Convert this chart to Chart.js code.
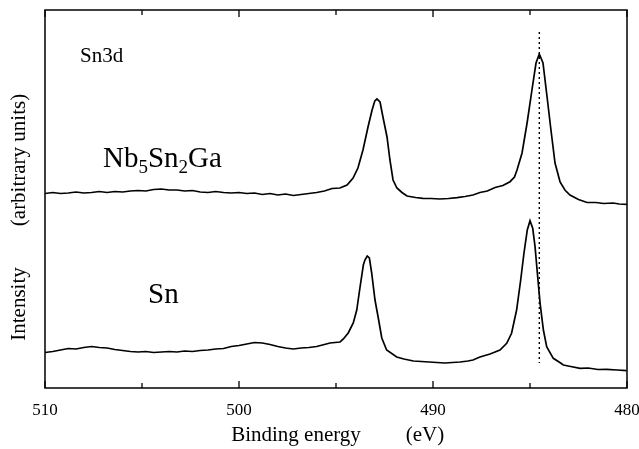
<!DOCTYPE html>
<html lang="en">
<head>
<meta charset="UTF-8">
<title>Sn3d XPS spectra</title>
<script src="https://cdn.jsdelivr.net/npm/chart.js"></script>
<style>
  body { margin: 0; background: #fff; }
  .wrap { width: 639px; height: 449px; position: relative; }
</style>
</head>
<body>
<div class="wrap"><canvas id="xps"></canvas></div>
<script>
// binding energy (eV) and intensity (arb. units)
const energyNb = [510.0, 509.6, 509.2, 508.8, 508.4, 508.0, 507.6, 507.2, 506.8, 506.4, 506.0, 505.6, 505.2, 504.8, 504.4, 504.0, 503.6, 503.2, 502.8, 502.4, 502.0, 501.6, 501.2, 500.8, 500.4, 500.0, 499.6, 499.2, 498.8, 498.4, 498.0, 497.6, 497.2, 496.8, 496.4, 496.0, 495.6, 495.2, 494.8, 494.43, 494.12, 493.87, 493.61, 493.35, 493.14, 493.0, 492.89, 492.73, 492.58, 492.37, 492.22, 492.06, 491.86, 491.6, 491.34, 490.9, 490.52, 490.1, 489.64, 489.2, 488.76, 488.35, 487.94, 487.58, 487.2, 486.8, 486.4, 486.03, 485.8, 485.67, 485.41, 485.15, 484.9, 484.69, 484.52, 484.33, 484.12, 483.92, 483.71, 483.45, 483.2, 482.94, 482.5, 482.06, 481.6, 481.2, 480.72, 480.4, 480.0];
const intensityNb = [194.5, 195.5, 194.5, 195, 196, 195, 195.5, 196.5, 195.5, 196.5, 196, 197, 197.5, 197, 198.5, 199, 198, 198, 197, 197.5, 196, 195.5, 196.5, 195.5, 195, 195.5, 194.5, 195, 193.5, 194.5, 193, 194, 192.5, 193.5, 194.5, 195.5, 197, 199.5, 200, 203, 210, 220, 238, 261, 278, 287, 289, 286, 271, 251, 228, 208, 200, 195.5, 192, 190.5, 189.7, 189.5, 189, 189.5, 190.3, 191.5, 193, 195.5, 197, 200.5, 202.5, 206.3, 211, 218, 235, 265, 298, 325, 334, 325, 291, 258, 225, 206, 198, 193, 188.5, 185.5, 185.5, 184.5, 185, 184, 183.7];

const energySn = [510.0, 509.6, 509.2, 508.8, 508.4, 508.0, 507.6, 507.2, 506.8, 506.4, 506.0, 505.6, 505.2, 504.8, 504.4, 504.0, 503.6, 503.2, 502.8, 502.4, 502.0, 501.6, 501.2, 500.8, 500.4, 500.0, 499.6, 499.2, 498.8, 498.4, 498.0, 497.6, 497.2, 496.8, 496.4, 496.0, 495.6, 495.31, 494.79, 494.62, 494.37, 494.11, 493.93, 493.76, 493.59, 493.51, 493.39, 493.28, 493.16, 492.99, 492.82, 492.64, 492.39, 491.87, 491.5, 491.01, 490.6, 490.2, 489.8, 489.4, 489.0, 488.6, 488.2, 487.94, 487.58, 487.06, 486.8, 486.55, 486.2, 485.95, 485.69, 485.48, 485.31, 485.14, 485.0, 484.86, 484.74, 484.62, 484.48, 484.31, 484.14, 483.8, 483.5, 483.28, 482.9, 482.42, 482.0, 481.5, 481.05, 480.5, 480.02];
const intensitySn = [35.5, 36.5, 38, 39.5, 39, 40.5, 41.5, 40.5, 40, 38.5, 37.5, 36.5, 36, 36.5, 35.5, 36, 36.5, 36, 37, 36.5, 37.5, 38, 39, 39.5, 41.5, 42.5, 44, 45.5, 45, 43.5, 41.5, 40, 39, 40, 40.5, 41.5, 43.5, 45, 46, 49, 55, 65, 78, 101, 123, 128, 132, 130, 115, 88, 70, 50, 38, 31, 29, 27, 26.5, 26, 25.5, 25, 25.5, 26, 27, 28, 31, 34, 36, 38, 44.7, 54.7, 78, 108, 135, 158, 167.3, 159.7, 141.3, 114.7, 84.7, 58, 41.3, 29.7, 26, 23, 21.5, 19.7, 20, 18.5, 18.7, 18, 17.3];

// dotted reference line at the Nb5Sn2Ga 3d5/2 peak
const markerEnergy = [484.52, 484.52];
const markerIntensity = [356, 25];

const xTickValues = [510, 500, 490, 480];

function toPoints(xs, ys) {
  return xs.map((x, i) => ({ x: x, y: ys[i] }));
}

const serif = '"Liberation Serif", "DejaVu Serif", serif';

const framePlugin = {
  id: 'frame',
  afterDraw(chart) {
    const { ctx, chartArea: a, scales } = chart;
    ctx.save();
    ctx.strokeStyle = '#000';
    ctx.lineWidth = 1.5;
    ctx.strokeRect(a.left, a.top, a.right - a.left, a.bottom - a.top);

    // inward ticks top and bottom
    ctx.lineWidth = 1.3;
    for (let v = 480; v <= 510; v += 5) {
      const x = scales.x.getPixelForValue(v);
      const len = v % 10 === 0 ? 7 : 5;
      ctx.beginPath();
      ctx.moveTo(x, a.bottom);
      ctx.lineTo(x, a.bottom - len);
      ctx.moveTo(x, a.top);
      ctx.lineTo(x, a.top + len);
      ctx.stroke();
    }

    ctx.fillStyle = '#000';
    ctx.textBaseline = 'alphabetic';
    ctx.textAlign = 'left';

    ctx.font = '21px ' + serif;
    ctx.fillText('Sn3d', 80, 62);

    // Nb5Sn2Ga with subscripts
    let x = 103;
    const base = 167;
    const big = '29px ' + serif, small = '19px ' + serif;
    const parts = [['Nb', big, 0], ['5', small, 6], ['Sn', big, 0], ['2', small, 6], ['Ga', big, 0]];
    parts.forEach(([t, f, dy]) => {
      ctx.font = f;
      ctx.fillText(t, x, base + dy);
      x += ctx.measureText(t).width;
    });

    ctx.font = '29px ' + serif;
    ctx.fillText('Sn', 148, 303);

    // axis titles
    ctx.font = '21px ' + serif;
    ctx.textAlign = 'center';
    ctx.fillText('Binding energy', 296, 441);
    ctx.fillText('(eV)', 425, 441);

    ctx.save();
    ctx.translate(25, 0);
    ctx.rotate(-Math.PI / 2);
    ctx.fillText('Intensity', -304, 0);
    ctx.fillText('(arbitrary units)', -160, 0);
    ctx.restore();

    ctx.restore();
  }
};

new Chart(document.getElementById('xps'), {
  type: 'line',
  data: {
    datasets: [
      {
        label: 'Nb5Sn2Ga',
        data: toPoints(energyNb, intensityNb),
        borderColor: '#000',
        borderWidth: 1.7,
        pointRadius: 0,
        tension: 0
      },
      {
        label: 'Sn',
        data: toPoints(energySn, intensitySn),
        borderColor: '#000',
        borderWidth: 1.7,
        pointRadius: 0,
        tension: 0
      },
      {
        label: 'marker',
        data: toPoints(markerEnergy, markerIntensity),
        borderColor: '#000',
        borderWidth: 1.4,
        borderDash: [2, 3],
        pointRadius: 0
      }
    ]
  },
  options: {
    responsive: true,
    maintainAspectRatio: false,
    animation: false,
    layout: { padding: { left: 45, right: 12, top: 10, bottom: 0 } },
    plugins: { legend: { display: false }, tooltip: { enabled: false } },
    scales: {
      x: {
        type: 'linear',
        reverse: true,
        min: 480,
        max: 510,
        grid: { display: false },
        border: { display: false },
        afterBuildTicks(scale) {
          scale.ticks = xTickValues.map(v => ({ value: v }));
        },
        afterFit(scale) {
          scale.height = 61;
          scale.paddingLeft = 0;
          scale.paddingRight = 0;
        },
        ticks: {
          autoSkip: false,
          maxRotation: 0,
          padding: 4,
          color: '#000',
          font: { family: serif, size: 17 }
        }
      },
      y: {
        display: false,
        min: 0,
        max: 378
      }
    }
  },
  plugins: [framePlugin]
});
</script>
</body>
</html>
